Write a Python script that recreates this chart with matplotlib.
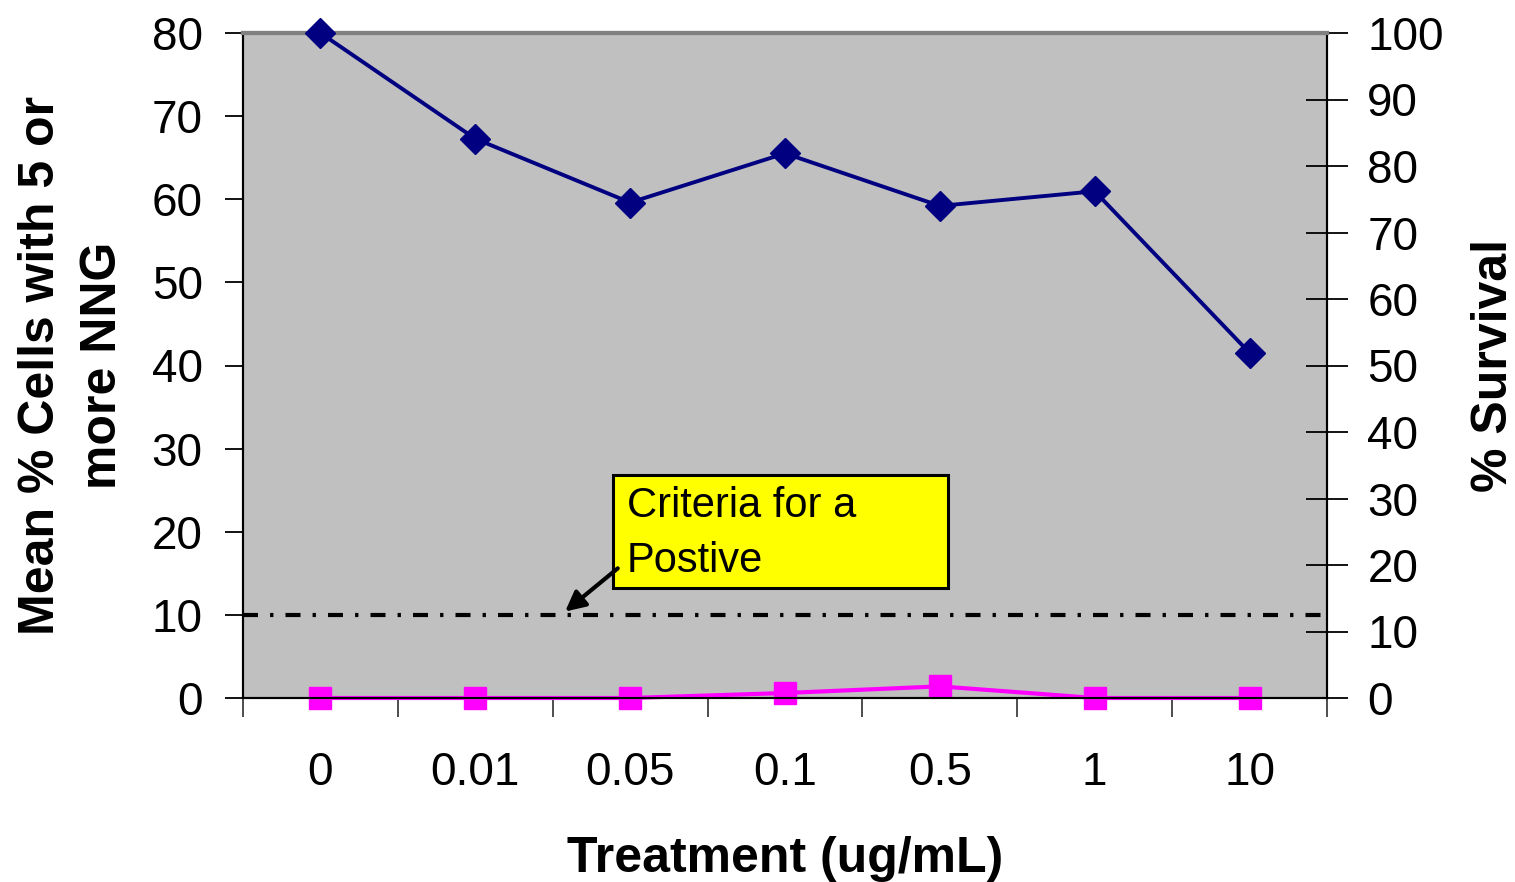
import numpy as np
import matplotlib.pyplot as plt
from matplotlib.patches import Rectangle

plt.rcParams['font.family'] = ['Liberation Sans', 'DejaVu Sans']

doses = ['0', '0.01', '0.05', '0.1', '0.5', '1', '10']
nng_cells = [0, 0, 0, 0.6, 1.4, 0, 0]          # left axis, mean % cells
survival = [100, 84.1, 74.5, 81.9, 74.0, 76.2, 51.9]  # right axis, % survival
criteria = 10

x = np.arange(len(doses)) + 0.5

fig = plt.figure(figsize=(15.15, 8.82), dpi=100)
ax = fig.add_axes([243 / 1515, 1 - 698 / 882, (1327 - 243) / 1515, (698 - 33) / 882])
ax.set_facecolor('#C0C0C0')
ax.set_xlim(0, len(doses))
ax.set_ylim(0, 80)
ax.set_yticks(range(0, 81, 10))
ax.set_xticks(range(len(doses) + 1))
ax.set_xticklabels([])
ax.set_xticks(x, minor=True)
ax.set_xticklabels(doses, minor=True)
ax.tick_params(axis='x', which='minor', length=0, pad=38, labelsize=33)
ax.tick_params(axis='x', which='major', length=14, width=1.3, direction='out', color='#404040')
ax.tick_params(axis='y', length=13, width=1.3, direction='out', pad=16, labelsize=33)

for side in ['left', 'bottom', 'right']:
    ax.spines[side].set_color('black')
    ax.spines[side].set_linewidth(1.5)
ax.spines['top'].set_color('#808080')
ax.spines['top'].set_linewidth(3)

# criteria line and pink series on the left scale
ax.axhline(criteria, color='black', lw=3, linestyle=(0, (3.6, 2.9, 0.8, 2.9)), zorder=2)
ax.plot(x, nng_cells, color='#FF00FF', lw=3, marker='s', ms=16, mec='#FF00FF',
        clip_on=False, zorder=4)

ax.set_xlabel('Treatment (ug/mL)', fontsize=36, fontweight='bold', labelpad=30)
ax.set_ylabel('Mean % Cells with 5 or\nmore NNG', fontsize=36, fontweight='bold',
              linespacing=1.45)
ax.yaxis.set_label_coords((126 - 243) / 1084, 0.5)

# survival on the right scale
ax2 = ax.twinx()
ax2.set_ylim(0, 100)
ax2.set_yticks(range(0, 101, 10))
ax2.tick_params(axis='y', length=30, width=1.3, direction='inout', pad=14, labelsize=33)
ax2.plot(x, survival, color='#000080', lw=2.8, marker='D', ms=15, mec='#000080',
         clip_on=False, zorder=4)
ax2.set_ylabel('% Survival', fontsize=36, fontweight='bold')
ax2.yaxis.set_label_coords((1471 - 243) / 1084, 0.5)
for side in ['left', 'bottom', 'right']:
    ax2.spines[side].set_color('black')
    ax2.spines[side].set_linewidth(1.5)
ax2.spines['top'].set_color('#808080')
ax2.spines['top'].set_linewidth(3)

# callout box
ax.add_patch(Rectangle((2.39, 13.2), 2.16, 13.6, facecolor='#FFFF00',
                       edgecolor='black', lw=2.2, zorder=5))
ax.text(2.48, 19.8, 'Criteria for a\nPostive', fontsize=30, va='center', ha='left',
        linespacing=1.5, zorder=6)
ax.annotate('', xy=(2.08, 10.4), xytext=(2.42, 15.6),
            arrowprops=dict(arrowstyle='-|>', color='black', lw=3, mutation_scale=30,
                            shrinkA=0, shrinkB=0), zorder=6)

fig.savefig('out.png', dpi=100)
